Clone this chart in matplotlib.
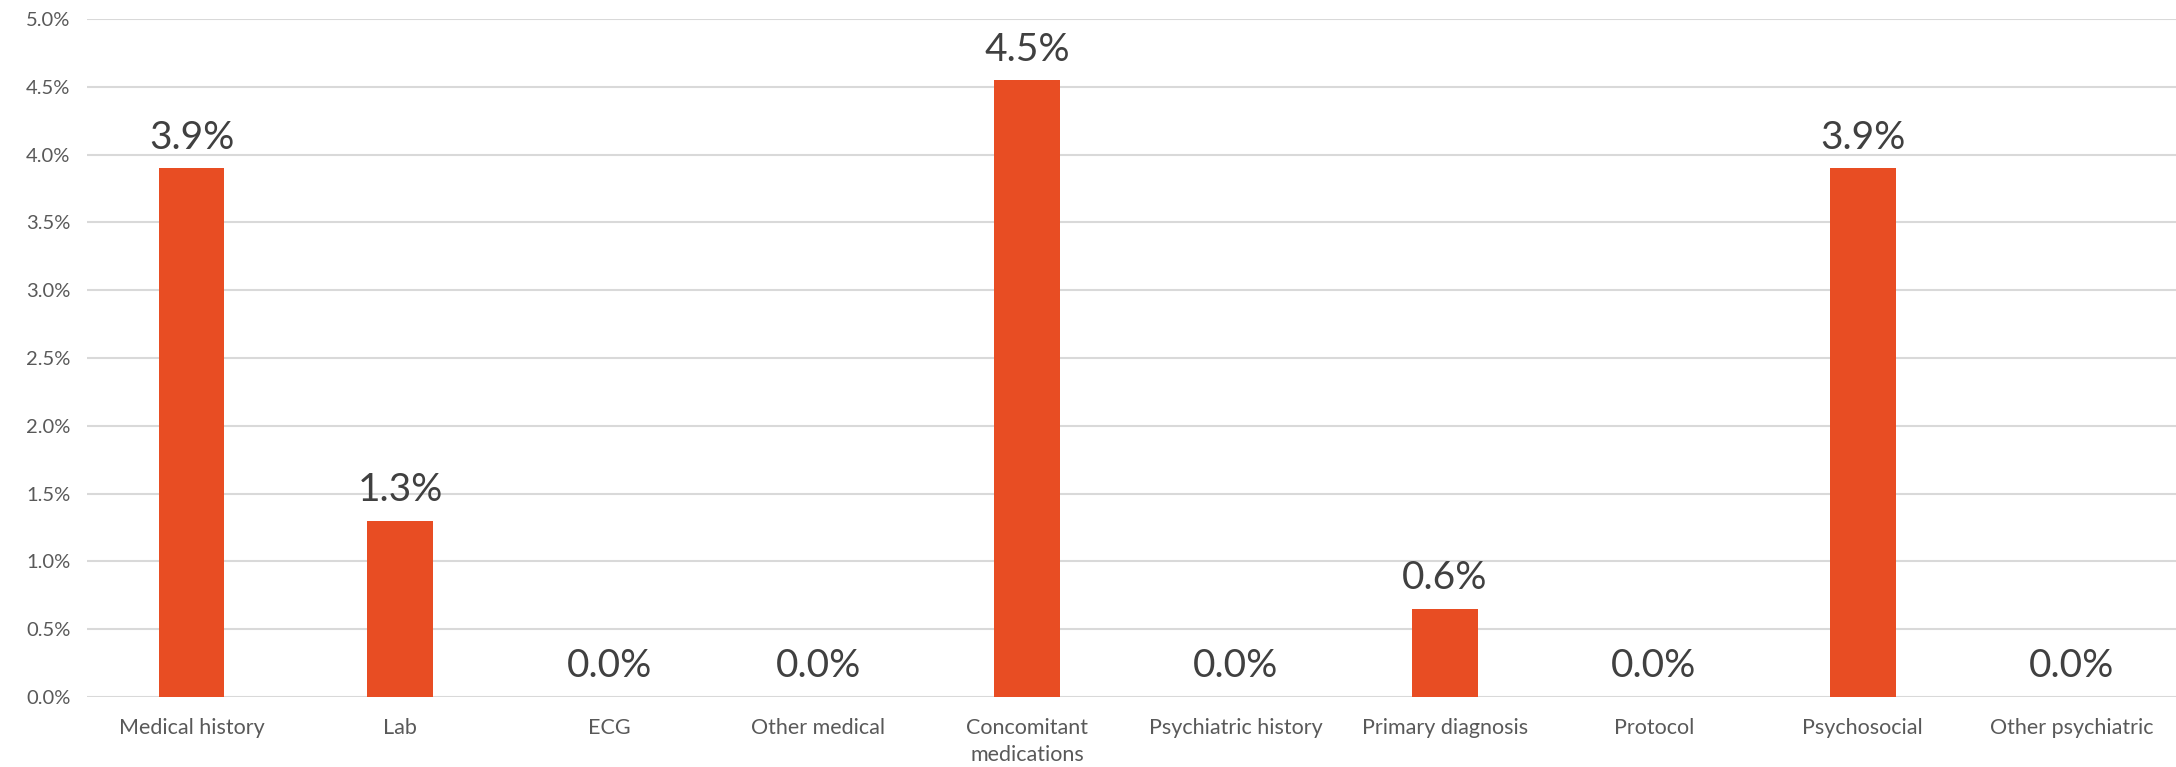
import matplotlib
matplotlib.use("Agg")
import matplotlib.pyplot as plt
from matplotlib.ticker import FuncFormatter, MultipleLocator

categories = ["Medical history", "Lab", "ECG", "Other medical", "Concomitant\nmedications",
              "Psychiatric history", "Primary diagnosis", "Protocol", "Psychosocial", "Other psychiatric"]
values = [3.9, 1.3, 0.0, 0.0, 4.55, 0.0, 0.65, 0.0, 3.9, 0.0]
labels = ["3.9%", "1.3%", "0.0%", "0.0%", "4.5%", "0.0%", "0.6%", "0.0%", "3.9%", "0.0%"]

plt.rcParams['font.family'] = ['Lato', 'DejaVu Sans']

fig = plt.figure(figsize=(21.76, 7.67), dpi=100)
ax = fig.add_axes([0.040, 0.0913, 0.960, 0.8839])

x = list(range(len(categories)))
bars = ax.bar(x, values, width=0.315, color="#E84D23", zorder=3)

for xi, v, lab in zip(x, values, labels):
    ax.annotate(lab, (xi, v), xytext=(0, 9), textcoords="offset points",
                ha="center", va="bottom", fontsize=28, color="#404040")

ax.set_xlim(-0.5, len(categories) - 0.5)
ax.set_ylim(0, 5.0)
ax.yaxis.set_major_locator(MultipleLocator(0.5))
ax.yaxis.set_major_formatter(FuncFormatter(lambda v, p: f"{v:.1f}%"))
ax.grid(axis="y", color="#D9D9D9", linewidth=1.5, zorder=0)
ax.set_axisbelow(True)
for s in ax.spines.values():
    s.set_visible(False)
ax.set_xticks(x)
ax.set_xticklabels(categories, fontsize=15.5, color="#595959", linespacing=1.45)
ax.tick_params(axis="x", length=0, pad=15)
ax.tick_params(axis="y", length=0, pad=12, labelsize=14.5, labelcolor="#595959")

fig.savefig("out.png", dpi=100)
